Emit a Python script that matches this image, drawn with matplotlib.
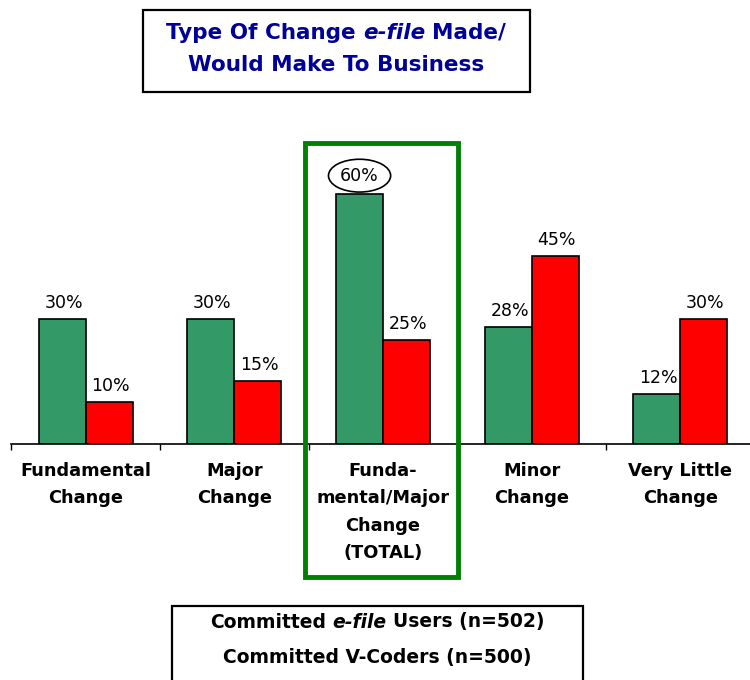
import numpy as np
import matplotlib.pyplot as plt
from matplotlib.patches import Rectangle

# data
categories = ['Fundamental\nChange', 'Major\nChange', 'Funda-\nmental/Major\nChange\n(TOTAL)',
              'Minor\nChange', 'Very Little\nChange']
efile_users = [30, 30, 60, 28, 12]
v_coders = [10, 15, 25, 45, 30]
legend_efile = ['Committed ', 'e-file', ' Users (n=502)']
legend_vcoders = 'Committed V-Coders (n=500)'

green = '#339966'
red = '#ff0000'
navy = '#000099'

plt.rcParams['font.family'] = 'DejaVu Sans'

fig = plt.figure(figsize=(7.5, 6.8), dpi=100)
W, H = 750, 680

# axes placed so one category is ~149 px wide and the baseline sits at y=444 px
ax = fig.add_axes([11.3 / W, 236 / H, 743.5 / W, 292 / H])
x = np.arange(len(categories))
bw = 0.316
b1 = ax.bar(x - bw / 2, efile_users, bw, color=green, edgecolor='black', linewidth=1.2)
b2 = ax.bar(x + bw / 2, v_coders, bw, color=red, edgecolor='black', linewidth=1.2)
ax.set_xlim(-0.5, 4.5)
ax.set_ylim(0, 70)

for sp in ['left', 'right', 'top']:
    ax.spines[sp].set_visible(False)
ax.spines['bottom'].set_linewidth(1.2)
ax.set_yticks([])
ax.set_xticks(np.arange(-0.5, 5, 1))
ax.set_xticklabels([])
ax.tick_params(axis='x', which='major', length=4, width=1, direction='out')
ax.set_xticks(x, categories, minor=True)
ax.tick_params(axis='x', which='minor', length=0, pad=13)
for lab in ax.get_xticklabels(minor=True):
    lab.set_fontweight('bold')
    lab.set_fontsize(12.8)
    lab.set_linespacing(1.66)

for bars, vals in [(b1, efile_users), (b2, v_coders)]:
    for b, v in zip(bars, vals):
        cx = b.get_x() + b.get_width() / 2
        if v == 60:
            ax.annotate(f'{v}%', (cx, v), xytext=(0, 13), textcoords='offset points',
                        ha='center', va='center', fontsize=12.5,
                        bbox=dict(boxstyle='ellipse,pad=0.15', fc='white', ec='black', lw=1.2))
        else:
            ax.annotate(f'{v}%', (cx, v), xytext=(1, 5), textcoords='offset points',
                        ha='center', va='bottom', fontsize=12.5)

renderer = fig.canvas.get_renderer()


def rich_line(parts, xc, yc, **kw):
    # parts: list of (text, italic) drawn side by side, centred on xc (pixels)
    texts = []
    for s, it in parts:
        t = fig.text(0, yc / H, s, style='italic' if it else 'normal', va='center', **kw)
        texts.append(t)
    probe1 = fig.text(0, 0, 'x x', **kw)
    probe2 = fig.text(0, 0, 'xx', **kw)
    sp = probe1.get_window_extent(renderer).width - probe2.get_window_extent(renderer).width
    probe1.remove()
    probe2.remove()
    widths = []
    for (s, it), t in zip(parts, texts):
        t.set_text(s.strip())
        widths.append(t.get_window_extent(renderer).width)
    gaps = []
    for i, (s, it) in enumerate(parts):
        g = 0
        if i > 0 and (s.startswith(' ') or parts[i - 1][0].endswith(' ')):
            g = sp
        gaps.append(g)
    total = sum(widths) + sum(gaps)
    xpos = xc - total / 2
    for t, w, g in zip(texts, widths, gaps):
        xpos += g
        t.set_x(xpos / W)
        xpos += w


# title box
fig.patches.append(Rectangle((143 / W, 588 / H), 387 / W, 82 / H, transform=fig.transFigure,
                             fill=False, ec='black', lw=1.6))
rich_line([('Type Of Change ', False), ('e-file', True), (' Made/', False)], 336, 647,
          fontsize=15.5, fontweight='bold', color=navy)
rich_line([('Would Make To Business', False)], 336, 615,
          fontsize=15.5, fontweight='bold', color=navy)

# highlight box around the total category
fig.patches.append(Rectangle((305 / W, 103 / H), 153 / W, 434 / H, transform=fig.transFigure,
                             fill=False, ec='#008000', lw=3.5))

# legend box (no swatches in the original)
fig.patches.append(Rectangle((172 / W, -14 / H), 411 / W, 88 / H, transform=fig.transFigure,
                             fill=False, ec='black', lw=1.6))
rich_line([(legend_efile[0], False), (legend_efile[1], True), (legend_efile[2], False)], 377, 58,
          fontsize=13.5, fontweight='bold', color='black')
rich_line([(legend_vcoders, False)], 377, 22, fontsize=13.5, fontweight='bold', color='black')

fig.savefig('out.png', dpi=100)
